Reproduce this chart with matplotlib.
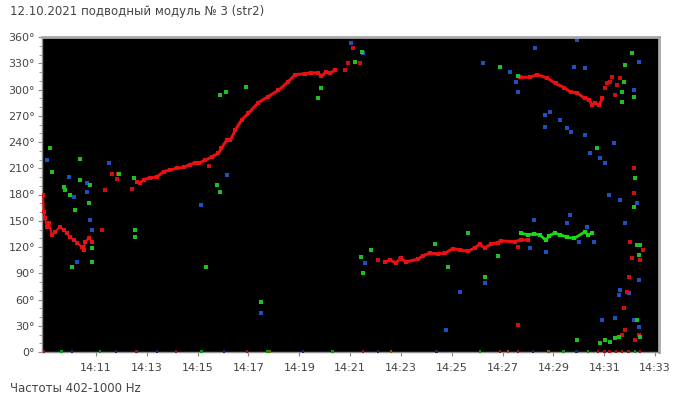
import matplotlib
matplotlib.use('Agg')
import matplotlib.pyplot as plt
import matplotlib.ticker as ticker

# time in minutes after 14:00, bearing in degrees
redA_t = [8.92, 8.95, 8.99, 9.08, 9.15, 9.27, 9.39, 9.59, 9.75, 9.86, 9.98, 10.14, 10.25, 10.45, 10.53, 10.57, 10.73, 10.84]
redA_d = [179, 160, 153, 143, 147, 134, 137, 143, 139, 136, 131, 128, 125, 120, 117, 126, 130, 126]

redB_t = [12.61, 12.73, 12.88, 13.12, 13.39, 13.67, 13.90, 14.18, 14.45, 14.69, 14.88, 15.04, 15.31, 15.55,
          15.82, 15.94, 16.14, 16.29, 16.49, 16.73, 17.00, 17.39, 17.78, 18.18, 18.57, 18.84, 19.24, 19.47,
          19.75, 19.86, 20.06, 20.22, 20.41]
redB_d = [194, 193, 197, 199, 200, 206, 208, 210, 211, 214, 216, 216, 219, 223,
          227, 233, 242, 242, 254, 265, 273, 285, 292, 299, 309, 317, 318, 319,
          319, 315, 320, 319, 322]

redC_t = [22.37, 22.57, 22.80, 23.00, 23.20, 23.67, 23.86, 24.14, 24.45, 24.73, 25.04, 25.31, 25.63,
          25.90, 26.10, 26.29, 26.53, 26.80, 26.92, 27.47, 27.71, 27.98]
redC_d = [103, 105, 102, 107, 103, 106, 110, 113, 112, 113, 118, 117, 115,
          119, 123, 119, 123, 125, 127, 126, 128, 128]

greenC_t = [27.71, 27.98, 28.25, 28.45, 28.69, 28.84, 29.04, 29.27, 29.55, 29.82, 30.22, 30.37, 30.53]
greenC_d = [136, 134, 135, 134, 128, 133, 136, 134, 131, 130, 137, 134, 136]

redD_t = [27.67, 28.06, 28.37, 28.76, 29.08, 29.43, 29.67, 29.94, 30.22, 30.41, 30.53, 30.65, 30.80, 30.92]
redD_d = [314, 314, 317, 313, 307, 302, 297, 296, 290, 288, 282, 285, 282, 290]

red_pts_t = [11.82, 11.86, 11.63, 11.24, 12.41, 11.35, 15.43, 20.80, 20.92, 21.12, 21.39, 22.10, 27.59, 27.59,
             31.12, 31.24, 31.31, 31.04, 31.51, 31.63, 31.43, 32.18, 32.18, 32.02, 32.10, 32.53, 32.41,
             31.98, 31.90, 31.78, 31.82, 31.71, 32.37, 32.22, 21.43, 21.51, 22.95]
red_pts_d = [198, 204, 204, 139, 186, 185, 213, 322, 330, 347, 330, 105, 120, 31,
             307, 309, 314, 302, 305, 313, 294, 210, 182, 126, 107, 117, 105,
             86, 69, 50, 25, 19, 19, 14, 109, 90, 106]

green_pts_t = [9.20, 9.27, 10.37, 9.75, 9.78, 9.98, 10.37, 10.76, 10.73, 10.18, 11.90, 12.49, 12.53, 12.53,
               10.06, 10.84, 10.84, 15.90, 16.10, 16.92, 15.75, 15.90, 15.35, 17.51, 19.86, 19.75, 21.20,
               21.43, 21.51, 21.47, 26.88, 21.82, 24.33, 24.84, 25.63, 26.29, 26.80, 32.10, 31.82, 31.78,
               31.71, 31.71, 32.18, 30.73, 32.22, 32.18, 32.29, 32.41, 32.37, 32.29, 32.41, 29.94, 30.84,
               31.04, 31.24, 31.43, 31.59, 27.59]
green_pts_d = [233, 206, 221, 189, 185, 179, 197, 191, 170, 162, 204, 199, 139, 131,
               97, 103, 119, 294, 297, 303, 191, 183, 97, 57, 302, 290, 331,
               109, 90, 343, 326, 117, 124, 97, 136, 86, 110, 342, 328, 309,
               297, 286, 291, 233, 199, 166, 122, 122, 111, 37, 17, 14, 10,
               14, 11, 16, 17, 315]

blue_pts_t = [9.08, 11.51, 9.94, 10.65, 10.65, 11.35, 10.14, 10.76, 10.84, 10.25, 16.14, 15.12, 17.51, 21.59,
              21.04, 21.51, 26.22, 27.27, 28.29, 27.51, 27.59, 28.65, 28.65, 28.88, 25.31, 26.29, 28.06,
              28.69, 28.25, 24.76, 29.94, 32.37, 29.82, 30.22, 29.24, 29.55, 29.67, 30.25, 31.39, 30.45,
              30.84, 31.04, 31.20, 31.63, 29.63, 29.55, 30.33, 32.18, 32.29, 30.02, 30.61, 31.82, 31.63,
              31.59, 31.98, 31.43, 30.92, 32.37, 32.18, 32.37]
blue_pts_d = [219, 216, 200, 193, 183, 185, 177, 151, 139, 103, 202, 168, 45, 102,
              353, 342, 330, 320, 347, 309, 297, 271, 257, 274, 69, 79, 119,
              114, 151, 25, 357, 331, 326, 325, 265, 256, 251, 248, 239, 227,
              222, 216, 179, 174, 157, 147, 143, 299, 170, 126, 126, 147, 71,
              65, 67, 39, 37, 82, 37, 29]

# points lying on the 0 degree line
zero_t = [8.95, 9.65, 10.05, 11.15, 11.80, 12.60, 13.40, 14.15, 15.15, 16.05, 16.95, 17.75, 17.85, 19.15,
          20.30, 21.50, 22.10, 22.60, 24.40, 26.10, 26.90, 27.20, 27.60, 28.20, 28.80, 29.40, 29.90,
          30.35, 30.75, 31.00, 31.20, 31.45, 31.70, 31.95, 32.20, 32.40]
zero_c = ['r', 'g', 'b', 'g', 'b', 'r', 'b', 'r', 'g', 'b', 'r', 'g', 'o', 'b',
          'g', 'r', 'b', 'o', 'b', 'g', 'r', 'o', 'r', 'b', 'o', 'g', 'b',
          'g', 'r', 'r', 'r', 'r', 'r', 'r', 'g', 'r']

RED = '#e81010'
GREEN = '#18d818'
BLUE = '#2050c0'
cmap = {'r': '#a01010', 'g': '#109010', 'b': '#102a70', 'o': '#905010'}

fig = plt.figure(figsize=(6.74, 3.96), dpi=100)
ax = fig.add_axes([42/674, 1-352/396, 617/674, 315/396])
ax.set_facecolor('black')

ms = 6
for t, d in [(redB_t, redB_d), (redC_t, redC_d), (redD_t, redD_d)]:
    ax.plot(t, d, color=RED, lw=2.2, zorder=3)
    ax.scatter(t, d, s=ms, color=RED, marker='s', lw=0, zorder=3)
ax.plot(redA_t, redA_d, color=RED, lw=1.5, zorder=3)
ax.scatter(redA_t, redA_d, s=ms, color=RED, marker='s', lw=0, zorder=3)
ax.plot(greenC_t, greenC_d, color=GREEN, lw=2.0, zorder=4)
ax.scatter(greenC_t, greenC_d, s=ms, color=GREEN, marker='s', lw=0, zorder=4)

ax.scatter(red_pts_t, red_pts_d, s=ms, color='#d01010', marker='s', lw=0, zorder=3)
ax.scatter(green_pts_t, green_pts_d, s=5, color='#20c020', marker='s', lw=0, zorder=3)
ax.scatter(blue_pts_t, blue_pts_d, s=6, color=BLUE, marker='s', lw=0, zorder=2)
ax.scatter(zero_t, [0.5]*len(zero_t), s=3, color=[cmap[c] for c in zero_c], marker='s', lw=0, zorder=3,
           clip_on=False)

ax.set_xlim(8.88, 33.15)
ax.set_ylim(0, 360)

ax.yaxis.set_major_locator(ticker.MultipleLocator(30))
ax.yaxis.set_minor_locator(ticker.MultipleLocator(10))
ax.yaxis.set_major_formatter(ticker.FuncFormatter(lambda v, p: '%d°' % v))
ax.xaxis.set_major_locator(ticker.FixedLocator(range(11, 34, 2)))
ax.xaxis.set_major_formatter(ticker.FuncFormatter(lambda v, p: '14:%02d' % v))

ax.tick_params(axis='both', which='major', labelsize=8, labelcolor='#444444', color='#888888',
               length=3, width=0.8, pad=2)
ax.tick_params(axis='y', which='minor', length=2, color='#888888')
ax.tick_params(axis='x', which='major', pad=5)

for s in ['left', 'bottom']:
    ax.spines[s].set_color('#909090')
    ax.spines[s].set_linewidth(1.0)
for s in ['top', 'right']:
    ax.spines[s].set_color('#a8a8a8')
    ax.spines[s].set_linewidth(2.0)

fig.text(10/674, 1-12/396, '12.10.2021 подводный модуль № 3 (str2)', fontsize=8.5, color='#444444',
         va='center', ha='left')
fig.text(10/674, 1-388/396, 'Частоты 402-1000 Hz', fontsize=8.5, color='#444444', va='center', ha='left')

plt.savefig('out.png', dpi=100)
